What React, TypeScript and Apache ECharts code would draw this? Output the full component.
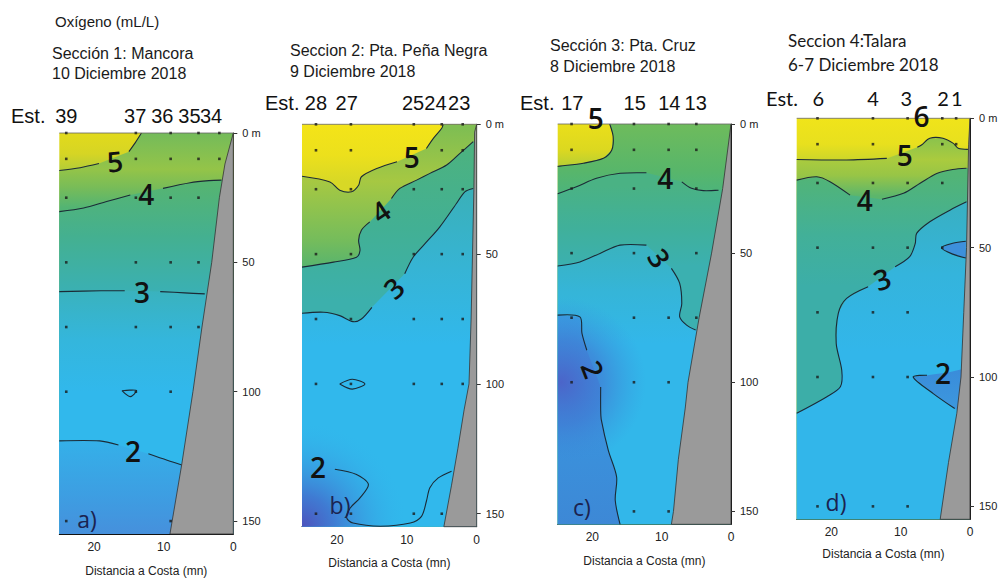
import React, { useEffect, useRef } from "react";
import * as echarts from "echarts";

type Pt = [number, number];

// ================= DATA =================
// x = Distancia a Costa (mn), y = profundidad (m)

// ---------- Panel 1: Sección 1 Mancora ----------
const p1StationNames = ["39", "37", "36", "35", "34"];
const p1StationNamePos = [24, 14.1, 10.2, 6.3, 3.2];
const p1Samples: Pt[] = [
  [24, 0], [14, 0], [9, 0], [5, 0], [2, 0],
  [24, 10], [14, 10], [9, 10], [5, 10], [2, 10],
  [24, 25], [14, 25], [9, 25], [5, 25],
  [24, 50], [14, 50], [9, 50], [5, 50],
  [24, 75], [14, 75], [9, 75], [5, 75],
  [24, 100], [14, 100], [9, 100],
  [24, 150], [9, 150],
];
const p1Land: Pt[] = [[0, 0], [1.2, 12], [2, 25], [3.1, 50], [4.5, 75], [5.8, 100], [7.4, 128], [9.1, 155], [0, 155]];
const p1Iso5: Pt[][] = [[[25, 14.5], [22, 13.4], [19.3, 11.8]], [[15, 7.2], [14.1, 3.8], [13.2, 0]]];
const p1Iso4: Pt[][] = [[[25, 30.4], [21.5, 29], [18.2, 26.5], [14.8, 24]], [[10.1, 21.4], [6.2, 19.2], [3.5, 18.4], [1.7, 18.2]]];
const p1Iso3: Pt[][] = [[[25, 61.3], [19, 61], [15.6, 61]], [[10.5, 61.3], [7, 61.8], [4.1, 62.2]]];
const p1Loop: Pt[][] = [[[16, 99.6], [14.9, 99.4], [13.9, 99.6], [14.8, 101.9], [16, 99.6]]];
const p1Iso2: Pt[][] = [[[25, 119], [19.2, 119], [16.5, 120.6]], [[12.2, 124], [9.5, 126.5], [7.4, 128.3]]];
const p1Close5: Pt[] = [[0, 0], [0, 155], [25, 155]];
const p1Close4: Pt[] = [[0, 18], [0, 155], [25, 155]];
const p1Close3: Pt[] = [[0, 62], [0, 155], [25, 155]];
const p1Close2: Pt[] = [[0, 128], [0, 155], [25, 155]];
const p1IsoText = ["5", "4", "3", "2"];
const p1IsoPos: Pt[] = [[17, 10.8], [12.5, 23.5], [13.1, 61.5], [14.4, 123]];

// ---------- Panel 2: Seccion 2 Pta. Peña Negra ----------
const p2StationNames = ["28", "27", "25", "24", "23"];
const p2StationNamePos = [23, 18.6, 9.1, 5.9, 2.5];
const p2Samples: Pt[] = [
  [23, 0], [18, 0], [9, 0], [5, 0], [2, 0],
  [23, 10], [18, 10], [5, 10], [2, 10],
  [23, 25], [18, 25], [9, 25], [5, 25], [2, 25],
  [23, 50], [18, 50], [9, 50], [5, 50], [2, 50],
  [23, 75], [18, 75], [9, 75], [5, 75], [2, 75],
  [23, 100], [18, 100], [9, 100], [5, 100], [2, 100],
  [23, 150], [18, 150], [9, 150], [5, 150],
];
const p2Land: Pt[] = [[0, 0], [0.3, 3], [0.4, 25], [0.6, 50], [0.8, 75], [1.1, 100], [1.8, 110], [2.7, 125], [3.6, 139], [4.7, 155], [0, 155]];
const p2Iso5: Pt[][] = [
  [[25, 20], [21, 22.2], [19.6, 25.4], [17.9, 26], [16.9, 23.5], [16.5, 20.2], [14.3, 17], [11.4, 14.4]],
  [[7.2, 9.3], [6.2, 5.4], [5, 1.5], [4.8, 0]],
];
const p2Iso4: Pt[][] = [
  [[25, 55], [20.5, 53.1], [17.2, 51.2], [16.7, 48.6], [16.9, 44.7], [16.5, 40.8], [15.3, 37.6]],
  [[12.2, 28.6], [11, 24.7], [8.6, 21.5], [6.7, 18.9], [4.3, 15.7], [2.4, 11.2], [0.5, 6.7]],
];
const p2Iso3: Pt[][] = [
  [[25, 72.8], [21.9, 72.4], [19.6, 73.7], [17.7, 76], [16.5, 75], [15, 70.5]],
  [[10.3, 57.6], [9.1, 51.2], [7.4, 46], [5.3, 39.6], [2.9, 30.5], [1.7, 26], [0.5, 24.7]],
];
const p2Loop: Pt[][] = [[[19.6, 100], [17.8, 98.2], [16, 100], [17.8, 102], [19.6, 100]]];
const p2Iso2: Pt[][] = [[
  [20.3, 132.9], [17.2, 134.9], [15.5, 138.7], [16.7, 143.9], [18.1, 147.8], [18.6, 151.6], [17.7, 153.6],
  [13.8, 154.8], [9.5, 153.6], [7.9, 151], [7.2, 145.2], [6.7, 140], [5.5, 136.2], [3.6, 133.6],
]];
const p2Close5: Pt[] = [[0, 0], [0, 155], [25, 155]];
const p2Close4: Pt[] = [[0, 6], [0, 155], [25, 155]];
const p2Close3: Pt[] = [[0, 24], [0, 155], [25, 155]];
const p2Corner: Pt[] = [[25, 95], [8, 95], [8, 155], [25, 155]];
const p2IsoText = ["5", "4", "3", "2"];
const p2IsoPos: Pt[] = [[9.3, 12.7], [13.8, 33.5], [11.9, 63], [22.7, 132]];

// ---------- Panel 3: Sección 3 Pta. Cruz ----------
const p3StationNames = ["17", "15", "14", "13"];
const p3StationNamePos = [22.9, 13.9, 8.9, 5.1];
const p3Samples: Pt[] = [
  [23, 0], [14, 0], [9, 0], [5, 0],
  [23, 10], [14, 10], [9, 10], [5, 10],
  [23, 25], [14, 25], [5, 25],
  [23, 50], [14, 50], [5, 50],
  [23, 75], [14, 75], [9, 75], [5, 75],
  [23, 100], [14, 100], [9, 100],
  [14, 150], [9, 150],
];
const p3Land: Pt[] = [[0, 0], [1.2, 25], [2.8, 50], [4.6, 75], [6.2, 100], [6.6, 110], [7.6, 130], [8.3, 150], [8.6, 155], [0, 155]];
const p3Iso5: Pt[][] = [[[17.5, 0], [17, 4.9], [17.2, 10.1], [18.4, 13.3], [21.3, 15.2], [24.7, 16.3], [25, 16.4]]];
const p3Iso4: Pt[][] = [
  [[25, 27], [22.3, 24.3], [19.4, 21], [16, 19.1], [12.2, 18.9]],
  [[7.1, 22.4], [5.7, 24.9], [4, 25.8], [1.8, 25.6]],
];
const p3Iso3: Pt[][] = [
  [[25, 55], [21.8, 53.4], [18.9, 50.1], [16, 46.9], [12.2, 46.9]],
  [[8.6, 55.9], [7.4, 61.7], [7.1, 69.5], [7.4, 74.7], [6.4, 77.9], [5.1, 79.8]],
];
const p3Iso2: Pt[][] = [
  [[25, 74], [21.8, 74.7], [21.5, 81.1], [20.8, 87.6]],
  [[18.8, 101.8], [18.8, 110.9], [18.7, 114.7], [17.7, 126.4], [16.5, 136.7], [16.7, 145.7], [16, 155]],
];
const p3Close5: Pt[] = [[25, 155], [0, 155], [0, 0]];
const p3Close4: Pt[] = [[0, 25], [0, 155], [25, 155]];
const p3Close3: Pt[] = [[0, 80], [0, 155], [25, 155]];
const p3Close2: Pt[] = [[25, 155]];
const p3Shade: Pt[] = [[25, 55], [10, 55], [10, 155], [25, 155]];
const p3IsoText = ["5", "4", "3", "2"];
const p3IsoPos: Pt[] = [[19.5, -2.5], [9.5, 21], [10.3, 51.8], [19.9, 95]];

// ---------- Panel 4: Seccion 4 Talara ----------
const p4StationNames = ["6", "4", "3", "2", "1"];
const p4StationNamePos = [21.9, 14, 9.2, 3.9, 1.9];
const p4Samples: Pt[] = [
  [22, 0], [14, 0], [9, 0], [4, 0], [2, 0],
  [22, 10], [14, 10], [4, 10], [2, 10],
  [22, 25], [14, 25], [9, 25], [4, 25],
  [22, 50], [14, 50], [9, 50], [4, 50],
  [22, 75], [14, 75], [9, 75],
  [22, 100], [14, 100], [9, 100],
  [22, 150], [14, 150], [9, 150],
];
const p4Land: Pt[] = [[0, 0], [0.2, 10], [0.5, 50], [0.9, 75], [1.3, 100], [1.9, 114], [3.1, 133], [4.3, 155], [0, 155]];
const p4Iso5: Pt[][] = [
  [[25, 15.9], [17.8, 16.1], [12, 15.5]],
  [[7.6, 11.2], [7, 10.3], [5.8, 7.7], [3.9, 7.7], [2.4, 9.7], [1.7, 11.6], [0.3, 12]],
];
const p4Iso4: Pt[][] = [
  [[25, 23.9], [22.1, 22.6], [20.2, 24.5], [17.3, 29.7]],
  [[12.7, 31.3], [9.6, 29], [7.2, 25.1], [4.8, 21.3], [2.5, 19.8], [0.5, 19.3]],
];
const p4Iso3: Pt[][] = [
  [[0.5, 32.3], [2.9, 35.5], [5.8, 40], [7.7, 44.5], [7.9, 48.4], [8.7, 53.5], [10.8, 57.4]],
  [[14.7, 65.1], [17.8, 69.6], [19, 75.4], [19.3, 87], [18.5, 97.4], [18.7, 103.8], [20.7, 107.7], [25, 114]],
];
const p4Wedge: Pt[][] = [[[0.6, 47.5], [2.5, 48.3], [4.1, 50], [2.5, 52.5], [0.6, 54]]];
const p4Iso2: Pt[][] = [[[6.2, 99.3], [8.2, 100], [5.3, 106.4], [2.2, 112.2]]];
const p4Close5: Pt[] = [[0, 12], [0, 155], [25, 155]];
const p4Close4: Pt[] = [[0, 19], [0, 155], [25, 155]];
const p4Close3: Pt[] = [[25, 155], [0, 155], [0, 32]];
const p4Close2: Pt[] = [[1.8, 113], [0, 113], [0, 97], [1.2, 97], [3, 98.2]];
const p4IsoText = ["6", "5", "4", "3", "2"];
const p4IsoPos: Pt[] = [[7.0, -0.9], [9.4, 14.2], [15.2, 31.6], [12.7, 62], [3.9, 98.3]];

const xTicks = [0, 10, 20];
const yTicks = [0, 50, 100, 150];
const fullRect: Pt[] = [[0, 0], [25, 0], [25, 155], [0, 155]];

// ================= STYLE / LAYOUT =================
const SANS = "'Liberation Sans', Arial, sans-serif";
const CAL = "Lato, 'Open Sans', sans-serif";
const LBL = "'Open Sans', 'DejaVu Sans', sans-serif";

type Fill =
  | { kind: "solid"; color: string }
  | { kind: "v"; stops: [number, string][] }
  | { kind: "r"; center: Pt; r: number; stops: [number, string][] };
type Band = { poly: Pt[]; fill: Fill };

type Panel = {
  box: { left: number; top: number; width: number; height: number };
  stationDy: number;
  nameGap: number;
  font: string;
  stationNames: string[];
  stationPos: number[];
  samples: Pt[];
  land: Pt[];
  lines: Pt[][];
  bands: Band[];
  isoText: string[];
  isoPos: Pt[];
  isoRot: number[];
};

const panels: Panel[] = [
  {
    box: { left: 59.3, top: 133, width: 174, height: 401 },
    stationDy: 17, nameGap: 31, font: SANS,
    stationNames: p1StationNames, stationPos: p1StationNamePos, samples: p1Samples, land: p1Land,
    lines: [...p1Iso5, ...p1Iso4, ...p1Iso3, ...p1Loop, ...p1Iso2],
    bands: [
      { poly: fullRect, fill: { kind: "v", stops: [[0, "#e2da1c"], [8, "#d6d524"], [15, "#b0cc3a"]] } },
      { poly: [...p1Iso5.flat(), ...p1Close5], fill: { kind: "v", stops: [[0, "#74bb5a"], [14, "#94c448"], [21, "#78bc58"], [29, "#52b474"]] } },
      { poly: [...p1Iso4.flat(), ...p1Close4], fill: { kind: "v", stops: [[20, "#55b472"], [40, "#44b090"], [62, "#3ab0b4"]] } },
      { poly: [...p1Iso3.flat(), ...p1Close3], fill: { kind: "v", stops: [[60, "#3ab2bc"], [80, "#34b6dc"], [100, "#31b8ec"]] } },
      { poly: [...p1Iso2.flat(), ...p1Close2], fill: { kind: "v", stops: [[118, "#34b1e9"], [140, "#3d9ee2"], [155, "#4690dc"]] } },
    ],
    isoText: p1IsoText, isoPos: p1IsoPos, isoRot: [0.1, 0, 0, 0],
  },
  {
    box: { left: 302, top: 124.3, width: 174.7, height: 402.4 },
    stationDy: 21, nameGap: 30, font: SANS,
    stationNames: p2StationNames, stationPos: p2StationNamePos, samples: p2Samples, land: p2Land,
    lines: [...p2Iso5, ...p2Iso4, ...p2Iso3, ...p2Loop, ...p2Iso2],
    bands: [
      { poly: fullRect, fill: { kind: "v", stops: [[0, "#f4e418"], [12, "#ece01c"], [22, "#d8d826"]] } },
      { poly: [...p2Iso5.flat(), ...p2Close5], fill: { kind: "v", stops: [[2, "#80be52"], [22, "#a6c842"], [45, "#74bc5c"], [55, "#58b46e"]] } },
      { poly: [...p2Iso4.flat(), ...p2Close4], fill: { kind: "v", stops: [[10, "#4cb280"], [40, "#42b094"], [68, "#3cb0ac"]] } },
      { poly: [...p2Iso3.flat(), ...p2Close3], fill: { kind: "v", stops: [[25, "#3ab0b8"], [55, "#36b4d4"], [85, "#31b8ec"]] } },
      { poly: p2Corner, fill: { kind: "r", center: [25, 155], r: 105, stops: [[0, "rgba(78,82,188,1)"], [0.3, "rgba(66,112,206,0.85)"], [1, "rgba(50,182,236,0)"]] } },
    ],
    isoText: p2IsoText, isoPos: p2IsoPos, isoRot: [0, 0.6, 0.75, 0],
  },
  {
    box: { left: 557.7, top: 124, width: 173.3, height: 400.3 },
    stationDy: 21, nameGap: 31, font: SANS,
    stationNames: p3StationNames, stationPos: p3StationNamePos, samples: p3Samples, land: p3Land,
    lines: [...p3Iso5, ...p3Iso4, ...p3Iso3, ...p3Iso2],
    bands: [
      { poly: fullRect, fill: { kind: "v", stops: [[0, "#eadf1a"], [10, "#dcd820"], [17, "#b4ce36"]] } },
      { poly: [...p3Iso5.flat(), ...p3Close5], fill: { kind: "v", stops: [[0, "#6ebb5c"], [18, "#58b66a"], [27, "#4cb47c"]] } },
      { poly: [...p3Iso4.flat(), ...p3Close4], fill: { kind: "v", stops: [[24, "#4ab284"], [40, "#40b09a"], [55, "#3bb0b0"]] } },
      { poly: [...p3Iso3.flat(), ...p3Close3], fill: { kind: "v", stops: [[45, "#3ab2bc"], [65, "#35b5d8"], [85, "#32b7ea"]] } },
      { poly: [...p3Iso2.flat(), ...p3Close2], fill: { kind: "v", stops: [[75, "#389fe2"], [120, "#3a92dc"], [155, "#3d88d6"]] } },
      { poly: p3Shade, fill: { kind: "r", center: [24.5, 100], r: 85, stops: [[0, "rgba(76,98,200,0.95)"], [0.5, "rgba(66,118,210,0.6)"], [1, "rgba(58,146,220,0)"]] } },
    ],
    isoText: p3IsoText, isoPos: p3IsoPos, isoRot: [0, 0, -1.0, -1.2],
  },
  {
    box: { left: 796.7, top: 118.3, width: 173.3, height: 401 },
    stationDy: 20, nameGap: 29, font: CAL,
    stationNames: p4StationNames, stationPos: p4StationNamePos, samples: p4Samples, land: p4Land,
    lines: [...p4Iso5, ...p4Iso4, ...p4Iso3, ...p4Wedge, ...p4Iso2],
    bands: [
      { poly: fullRect, fill: { kind: "v", stops: [[0, "#f0e41a"], [10, "#e8e01e"], [16, "#cdd62a"]] } },
      { poly: [...p4Iso5.flat(), ...p4Close5], fill: { kind: "v", stops: [[8, "#8cc34c"], [16, "#aacb3e"], [22, "#98c546"], [30, "#5cb66c"]] } },
      { poly: [...p4Iso4.flat(), ...p4Close4], fill: { kind: "v", stops: [[22, "#52b476"], [45, "#42b098"], [65, "#3caea8"]] } },
      { poly: [...p4Iso3.flat(), ...p4Close3], fill: { kind: "v", stops: [[35, "#38b0c4"], [60, "#34b4dc"], [90, "#32b6ea"]] } },
      { poly: p4Wedge[0], fill: { kind: "solid", color: "#3d90db" } },
      { poly: [...p4Iso2.flat(), ...p4Close2], fill: { kind: "v", stops: [[97, "#3a8cda"], [113, "#3c98de"]] } },
    ],
    isoText: p4IsoText, isoPos: p4IsoPos, isoRot: [0, 0, 0, 0.35, 0],
  },
];

// ================= HELPERS =================
function px(api: any, pts: Pt[]) {
  return pts.map((p) => api.coord(p));
}

function makeFill(api: any, f: Fill): any {
  if (f.kind === "solid") return f.color;
  if (f.kind === "v") {
    const d0 = f.stops[0][0];
    const d1 = f.stops[f.stops.length - 1][0];
    const y0 = api.coord([0, d0])[1];
    const y1 = api.coord([0, d1])[1];
    return new echarts.graphic.LinearGradient(
      0, y0, 0, y1,
      f.stops.map(([d, c]) => ({ offset: (d - d0) / (d1 - d0), color: c })),
      true
    );
  }
  const c = api.coord(f.center);
  return new echarts.graphic.RadialGradient(
    c[0], c[1], f.r,
    f.stops.map(([o, col]) => ({ offset: o, color: col })),
    true
  );
}

function txtStyle(text: string, size: number, family: string, color: string, align: string, weight: any = "normal") {
  return {
    text, fill: color, fontSize: size, fontFamily: family, fontWeight: weight,
    align, verticalAlign: "middle", textAlign: align, textVerticalAlign: "middle",
  };
}

function buildOption() {
  const grid: any[] = [];
  const xAxis: any[] = [];
  const yAxis: any[] = [];
  const series: any[] = [];

  panels.forEach((p, i) => {
    grid.push({ ...p.box, containLabel: false, outerBoundsMode: "none" });
    xAxis.push({
      gridIndex: i, type: "value", min: 0, max: 25, inverse: true,
      axisLine: { show: true, onZero: false, lineStyle: { color: "#111", width: 1 } },
      axisTick: { show: false },
      splitLine: { show: false },
      axisLabel: { customValues: xTicks, fontSize: 12, color: "#222", margin: 7, fontFamily: SANS },
      name: "Distancia a Costa (mn)", nameLocation: "middle", nameGap: p.nameGap,
      nameTextStyle: { fontSize: 12, color: "#222", fontFamily: SANS },
    });
    yAxis.push({
      gridIndex: i, type: "value", min: 0, max: 155, inverse: true, position: "right",
      axisLine: { show: true, onZero: false, lineStyle: { color: "#111", width: 1 } },
      axisTick: { show: true, length: 4, customValues: yTicks, lineStyle: { color: "#333" } },
      splitLine: { show: false },
      axisLabel: {
        customValues: yTicks, fontSize: 11, color: "#222", margin: 9, fontFamily: SANS,
        formatter: (v: number) => (v === 0 ? "0 m" : String(v)),
      },
    });

    // colour field
    series.push({
      type: "custom", xAxisIndex: i, yAxisIndex: i, z: 1, silent: true,
      data: p.bands.map((b) => b.poly[0]),
      renderItem: (params: any, api: any) => {
        const b = p.bands[params.dataIndex];
        return { type: "polygon", shape: { points: px(api, b.poly) }, style: { fill: makeFill(api, b.fill), stroke: null } };
      },
    });
    // isolines
    series.push({
      type: "custom", xAxisIndex: i, yAxisIndex: i, z: 3, silent: true,
      data: p.lines.map((l) => l[0]),
      renderItem: (params: any, api: any) => ({
        type: "polyline",
        shape: { points: px(api, p.lines[params.dataIndex]), smooth: 0.3 },
        style: { stroke: "#1b2a36", lineWidth: 1.1, fill: null },
      }),
    });
    // land
    series.push({
      type: "custom", xAxisIndex: i, yAxisIndex: i, z: 4, silent: true,
      data: [p.land[0]],
      renderItem: (_params: any, api: any) => ({
        type: "polygon",
        shape: { points: px(api, p.land) },
        style: { fill: "#9a9a9a", stroke: "#333", lineWidth: 0.8 },
      }),
    });
    // top frame line
    series.push({
      type: "custom", xAxisIndex: i, yAxisIndex: i, z: 5, silent: true,
      data: [[25, 0]],
      renderItem: (_params: any, api: any) => {
        const a = api.coord([25, 0]);
        const b = api.coord([0, 0]);
        return { type: "line", shape: { x1: a[0], y1: a[1], x2: b[0], y2: b[1] }, style: { stroke: "#666", lineWidth: 0.8 } };
      },
    });
    // sample points
    series.push({
      type: "scatter", xAxisIndex: i, yAxisIndex: i, z: 6, silent: true, clip: false,
      symbol: "rect", symbolSize: 2.6,
      itemStyle: { color: "#1a1a1a" },
      data: p.samples,
    });
    // isoline labels
    series.push({
      type: "custom", xAxisIndex: i, yAxisIndex: i, z: 7, silent: true,
      data: p.isoPos,
      renderItem: (params: any, api: any) => {
        const k = params.dataIndex;
        const c = api.coord(p.isoPos[k]);
        return {
          type: "text", x: c[0], y: c[1], rotation: p.isoRot[k],
          style: txtStyle(p.isoText[k], 28, LBL, "#111", "center", 600),
        };
      },
    });
    // station names
    series.push({
      type: "custom", xAxisIndex: i, yAxisIndex: i, z: 7, silent: true,
      data: p.stationPos.map((d) => [d, 0]),
      renderItem: (params: any, api: any) => {
        const k = params.dataIndex;
        const c = api.coord([p.stationPos[k], 0]);
        return {
          type: "text", x: c[0], y: c[1] - p.stationDy,
          style: txtStyle(p.stationNames[k], 20, p.font, "#111", "center"),
        };
      },
    });
  });

  const t = (x: number, y: number, text: string, size: number, family: string, color = "#1a1a1a", align = "left") => ({
    type: "text", x, y, z: 100, silent: true, style: txtStyle(text, size, family, color, align),
  });

  const graphic = [
    t(55, 21, "Oxígeno (mL/L)", 15, SANS),
    t(52, 53, "Sección 1: Mancora", 16, SANS),
    t(52, 73, "10 Diciembre 2018", 16, SANS),
    t(290, 50, "Seccion 2: Pta. Peña Negra", 16, SANS),
    t(290, 71, "9 Diciembre 2018", 16, SANS),
    t(550, 45, "Sección 3: Pta. Cruz", 16, SANS),
    t(550, 66, "8 Diciembre 2018", 16, SANS),
    t(788, 40, "Seccion 4:Talara", 17, CAL),
    t(788, 64, "6-7 Diciembre 2018", 17, CAL),
    t(11, 116, "Est.", 20, SANS, "#111"),
    t(265, 103, "Est.", 20, SANS, "#111"),
    t(520, 103, "Est.", 20, SANS, "#111"),
    t(766, 98, "Est.", 20, CAL, "#111"),
    t(87, 519, "a)", 23, LBL, "#1b2350", "center"),
    t(340, 505, "b)", 23, LBL, "#1b2350", "center"),
    t(582, 507, "c)", 23, LBL, "#1b2350", "center"),
    t(836, 502, "d)", 23, LBL, "#1b2350", "center"),
  ];

  return { animation: false, backgroundColor: "#ffffff", grid, xAxis, yAxis, series, graphic };
}

export default function App() {
  const ref = useRef<HTMLDivElement>(null);
  useEffect(() => {
    document.body.style.margin = "0";
    const chart = echarts.init(ref.current!, null, { renderer: "svg" });
    chart.setOption(buildOption() as any);
    return () => chart.dispose();
  }, []);
  return <div ref={ref} style={{ width: 1002, height: 578, background: "#fff" }} />;
}
